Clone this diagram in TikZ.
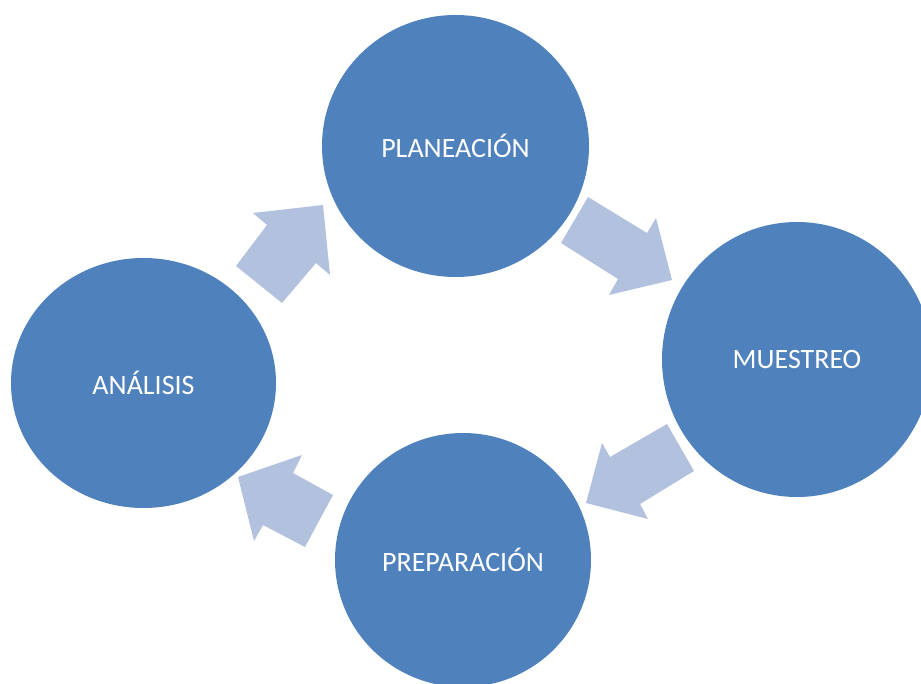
\documentclass[tikz,border=0pt]{standalone}
\usepackage{fontspec}
\setmainfont{Carlito}
\usetikzlibrary{shapes.geometric}
\definecolor{circblue}{RGB}{79,129,189}
\definecolor{arrblue}{RGB}{178,193,222}
\begin{document}
\begin{tikzpicture}[x=1pt,y=-1pt,
  stage/.style={ellipse, fill=circblue, draw=none, inner sep=0pt, text=white,
    font=\fontsize{28}{34}\selectfont},
  blockarrow/.style={fill=arrblue, draw=none}]
\clip (0,0) rectangle (921,684);
\useasboundingbox (0,0) rectangle (921,684);
% block arrows
\fill[blockarrow] (236,266) -- (267,225) -- (253,213) -- (323,205) -- (330,275) -- (316,263) -- (282,303) -- cycle;
\fill[blockarrow] (588,197) -- (647,233) -- (656,218) -- (672,280) -- (609,295) -- (618,279) -- (561,243) -- cycle;
\fill[blockarrow] (694,471) -- (640,504) -- (648,519) -- (586,503) -- (602,443) -- (610,457) -- (667,424) -- cycle;
\fill[blockarrow] (305,547) -- (263,525) -- (254,541) -- (238,477) -- (302,455) -- (293,473) -- (333,495) -- cycle;
% stages
\node[stage, minimum width=267pt, minimum height=262pt] (plan) at (455.5,146) {PLANEACIÓN};
\node[stage, minimum width=270pt, minimum height=275pt] (mues) at (797,359.5) {MUESTREO};
\node[stage, minimum width=256pt, minimum height=254pt] (prep) at (463,560) {PREPARACIÓN};
\node[stage, minimum width=265pt, minimum height=250pt] (anal) at (143.5,383) {ANÁLISIS};
\end{tikzpicture}
\end{document}
